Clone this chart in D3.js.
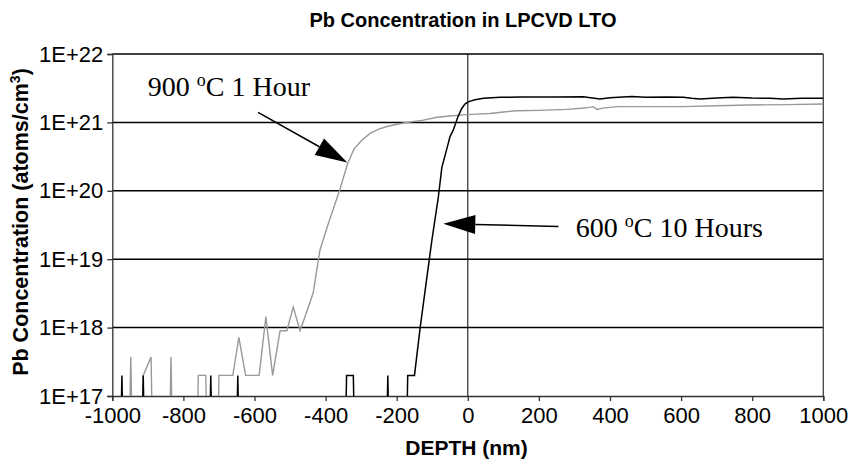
<!DOCTYPE html>
<html>
<head>
<meta charset="utf-8">
<script src="https://cdn.jsdelivr.net/npm/d3@7"></script>
<style>
  body { margin: 0; background: #fff; }
  text { font-family: "Liberation Sans", Arial, sans-serif; }
  .note { font-family: "Liberation Serif", "Times New Roman", serif; }
</style>
</head>
<body>
<script>
var width = 849, height = 464;

// depth (nm) and Pb concentration (atoms/cm3); 0 = below detection
var depth600 = [-992, -973, -954, -932, -913, -894, -742, -723, -704, -666, -647, -628,
                -360, -341, -322, -303, -244, -225, -206, -188, -169, -150, -134, -120,
                -101, -83, -73, -57, -50, -41, -28, -17, -8, 1, 20, 44, 91, 150, 250,
                325, 345, 372, 400, 461, 500, 560, 606, 630, 653, 700, 746, 800, 850,
                887, 940, 1000];
var conc600  = [0, 2e17, 0, 0, 2e17, 0, 0, 2e17, 0, 0, 2e17, 0,
                0, 2e17, 2e17, 0, 0, 2e17, 0, 0, 2e17, 2e17, 1e18, 3.5e18,
                1.9e19, 8e19, 2.2e20, 4.5e20, 6.2e20, 7.7e20, 1.2e21, 1.6e21, 1.85e21, 2e21,
                2.15e21, 2.25e21, 2.33e21, 2.35e21, 2.36e21, 2.38e21, 2.3e21, 2.2e21, 2.3e21,
                2.4e21, 2.33e21, 2.35e21, 2.33e21, 2.25e21, 2.2e21, 2.28e21, 2.33e21, 2.27e21,
                2.25e21, 2.2e21, 2.25e21, 2.25e21];

var depth900 = [-967, -948, -929, -932, -913, -891, -872, -854, -835, -816, -777, -758,
                -737, -718, -700, -680, -661, -644, -625, -606, -587, -568, -549, -528,
                -509, -491, -472, -453, -435, -416, -395, -378, -361, -338, -320, -298,
                -275, -250, -228, -181, -125, -87, -50, -13, 20, 62, 100, 138, 200, 278,
                330, 353, 363, 380, 419, 500, 606, 700, 793, 900, 1000];
var conc900  = [0, 3.7e17, 0, 0, 2e17, 3.7e17, 0, 0, 3.7e17, 0, 0, 2e17,
                2e17, 0, 2e17, 2e17, 2e17, 7.2e17, 2e17, 2e17, 2e17, 1.45e18, 2e17, 9e17,
                9e17, 2e18, 9e17, 1.7e18, 3.2e18, 1.35e19, 3e19, 5.5e19, 1e20, 2.5e20, 4.1e20, 5.5e20,
                6.9e20, 8e20, 8.7e20, 9.8e20, 1.08e21, 1.19e21, 1.24e21, 1.29e21, 1.32e21, 1.35e21,
                1.42e21, 1.48e21, 1.5e21, 1.55e21, 1.62e21, 1.7e21, 1.55e21, 1.62e21, 1.7e21,
                1.7e21, 1.7e21, 1.75e21, 1.8e21, 1.82e21, 1.86e21];

var xTicks = [-1000, -800, -600, -400, -200, 0, 200, 400, 600, 800, 1000];
var yTicks = [1e17, 1e18, 1e19, 1e20, 1e21, 1e22];

// annotation text anchor, arrow start, arrow tip (depth, conc)
var notes = [
  {label: "900 ", unit: "C 1 Hour", text: [-900, 2.43e21], from: [-590, 1.4e21], to: [-339, 2.6e20]},
  {label: "600 ", unit: "C 10 Hours", text: [304, 2.1e19], from: [255, 3e19], to: [-69, 3.3e19]}
];

var pLeft = 112.3, pRight = 823.3, pTop = 54, pBottom = 396;

var x = d3.scaleLinear().domain([-1000, 1000]).range([pLeft, pRight]);
var y = d3.scaleLog().domain([1e17, 1e22]).range([pBottom, pTop]);

var svg = d3.select("body").append("svg")
    .attr("width", width)
    .attr("height", height);

svg.append("rect").attr("width", width).attr("height", height).attr("fill", "#fff");

svg.append("defs").append("clipPath").attr("id", "plot")
   .append("rect")
   .attr("x", pLeft).attr("y", pTop)
   .attr("width", pRight - pLeft).attr("height", pBottom - pTop);

// grid
svg.selectAll(".grid")
   .data(yTicks.slice(1))
   .enter().append("line")
   .attr("x1", pLeft).attr("x2", pRight)
   .attr("y1", function(d) { return y(d); })
   .attr("y2", function(d) { return y(d); })
   .style("stroke", "#000")
   .style("stroke-width", 1.5);

svg.append("line")
   .attr("x1", x(0)).attr("x2", x(0))
   .attr("y1", pTop).attr("y2", pBottom)
   .style("stroke", "#000").style("stroke-width", 1);

svg.append("line")
   .attr("x1", pRight).attr("x2", pRight)
   .attr("y1", pTop).attr("y2", pBottom)
   .style("stroke", "#444").style("stroke-width", 1.3);

// axes
var yAxis = svg.append("g")
    .attr("transform", "translate(" + pLeft + ",0)")
    .call(d3.axisLeft(y).tickValues(yTicks).tickSize(5).tickPadding(4)
          .tickFormat(function(d) { return "1E+" + Math.round(Math.log10(d)); }));

var xAxis = svg.append("g")
    .attr("transform", "translate(0," + pBottom + ")")
    .call(d3.axisBottom(x).tickValues(xTicks).tickSize(5).tickPadding(6)
          .tickFormat(d3.format("d")));

[yAxis, xAxis].forEach(function(a) {
  a.select(".domain").style("stroke", "#333").style("stroke-width", 1.3);
  a.selectAll(".tick line").style("stroke", "#333").style("stroke-width", 1.3);
  a.selectAll(".tick text").style("font-size", "22px").style("fill", "#000")
   .style("font-family", "'Liberation Sans', Arial, sans-serif");
});
xAxis.selectAll(".tick text").text(function(d) { return d < 0 ? "-" + Math.abs(d) : d; });

// series
var line = d3.line()
    .x(function(d) { return x(d[0]); })
    .y(function(d) { return y(Math.max(d[1], 1e12)); });

var plot = svg.append("g").attr("clip-path", "url(#plot)");

plot.append("path")
    .datum(d3.zip(depth900, conc900))
    .attr("d", line)
    .style("fill", "none")
    .style("stroke", "#999")
    .style("stroke-width", 1.4);

plot.append("path")
    .datum(d3.zip(depth600, conc600))
    .attr("d", line)
    .style("fill", "none")
    .style("stroke", "#000")
    .style("stroke-width", 1.5);

// annotations
notes.forEach(function(n) {
  var x1 = x(n.from[0]), y1 = y(n.from[1]), x2 = x(n.to[0]), y2 = y(n.to[1]);
  var ang = Math.atan2(y2 - y1, x2 - x1), len = 32, hw = 9.5;
  var bx = x2 - len * Math.cos(ang), by = y2 - len * Math.sin(ang);
  svg.append("line")
     .attr("x1", x1).attr("y1", y1).attr("x2", bx).attr("y2", by)
     .style("stroke", "#000").style("stroke-width", 1.5);
  svg.append("path")
     .attr("d", "M" + x2 + "," + y2 +
                "L" + (bx - hw * Math.sin(ang)) + "," + (by + hw * Math.cos(ang)) +
                "L" + (bx + hw * Math.sin(ang)) + "," + (by - hw * Math.cos(ang)) + "Z")
     .style("fill", "#000");

  var t = svg.append("text")
     .attr("class", "note")
     .attr("x", x(n.text[0]))
     .attr("y", y(n.text[1]))
     .style("font-size", "28px")
     .style("fill", "#000");
  t.append("tspan").text(n.label);
  t.append("tspan").text("o").style("font-size", "18px").attr("dy", -10);
  t.append("tspan").text(n.unit).attr("dy", 10);
});

// titles
svg.append("text")
   .text("Pb Concentration in LPCVD LTO")
   .attr("x", 463).attr("y", 27)
   .attr("text-anchor", "middle")
   .style("font-size", "20px").style("font-weight", "bold");

svg.append("text")
   .text("DEPTH (nm)")
   .attr("x", 466.5).attr("y", 455)
   .attr("text-anchor", "middle")
   .style("font-size", "21px").style("font-weight", "bold");

var yl = svg.append("text")
   .attr("transform", "translate(28,222) rotate(-90)")
   .attr("text-anchor", "middle")
   .style("font-size", "21.5px").style("font-weight", "bold");
yl.append("tspan").text("Pb Concentration (atoms/cm");
yl.append("tspan").text("3").style("font-size", "14px").attr("dy", -8);
yl.append("tspan").text(")").attr("dy", 8);
</script>
</body>
</html>
